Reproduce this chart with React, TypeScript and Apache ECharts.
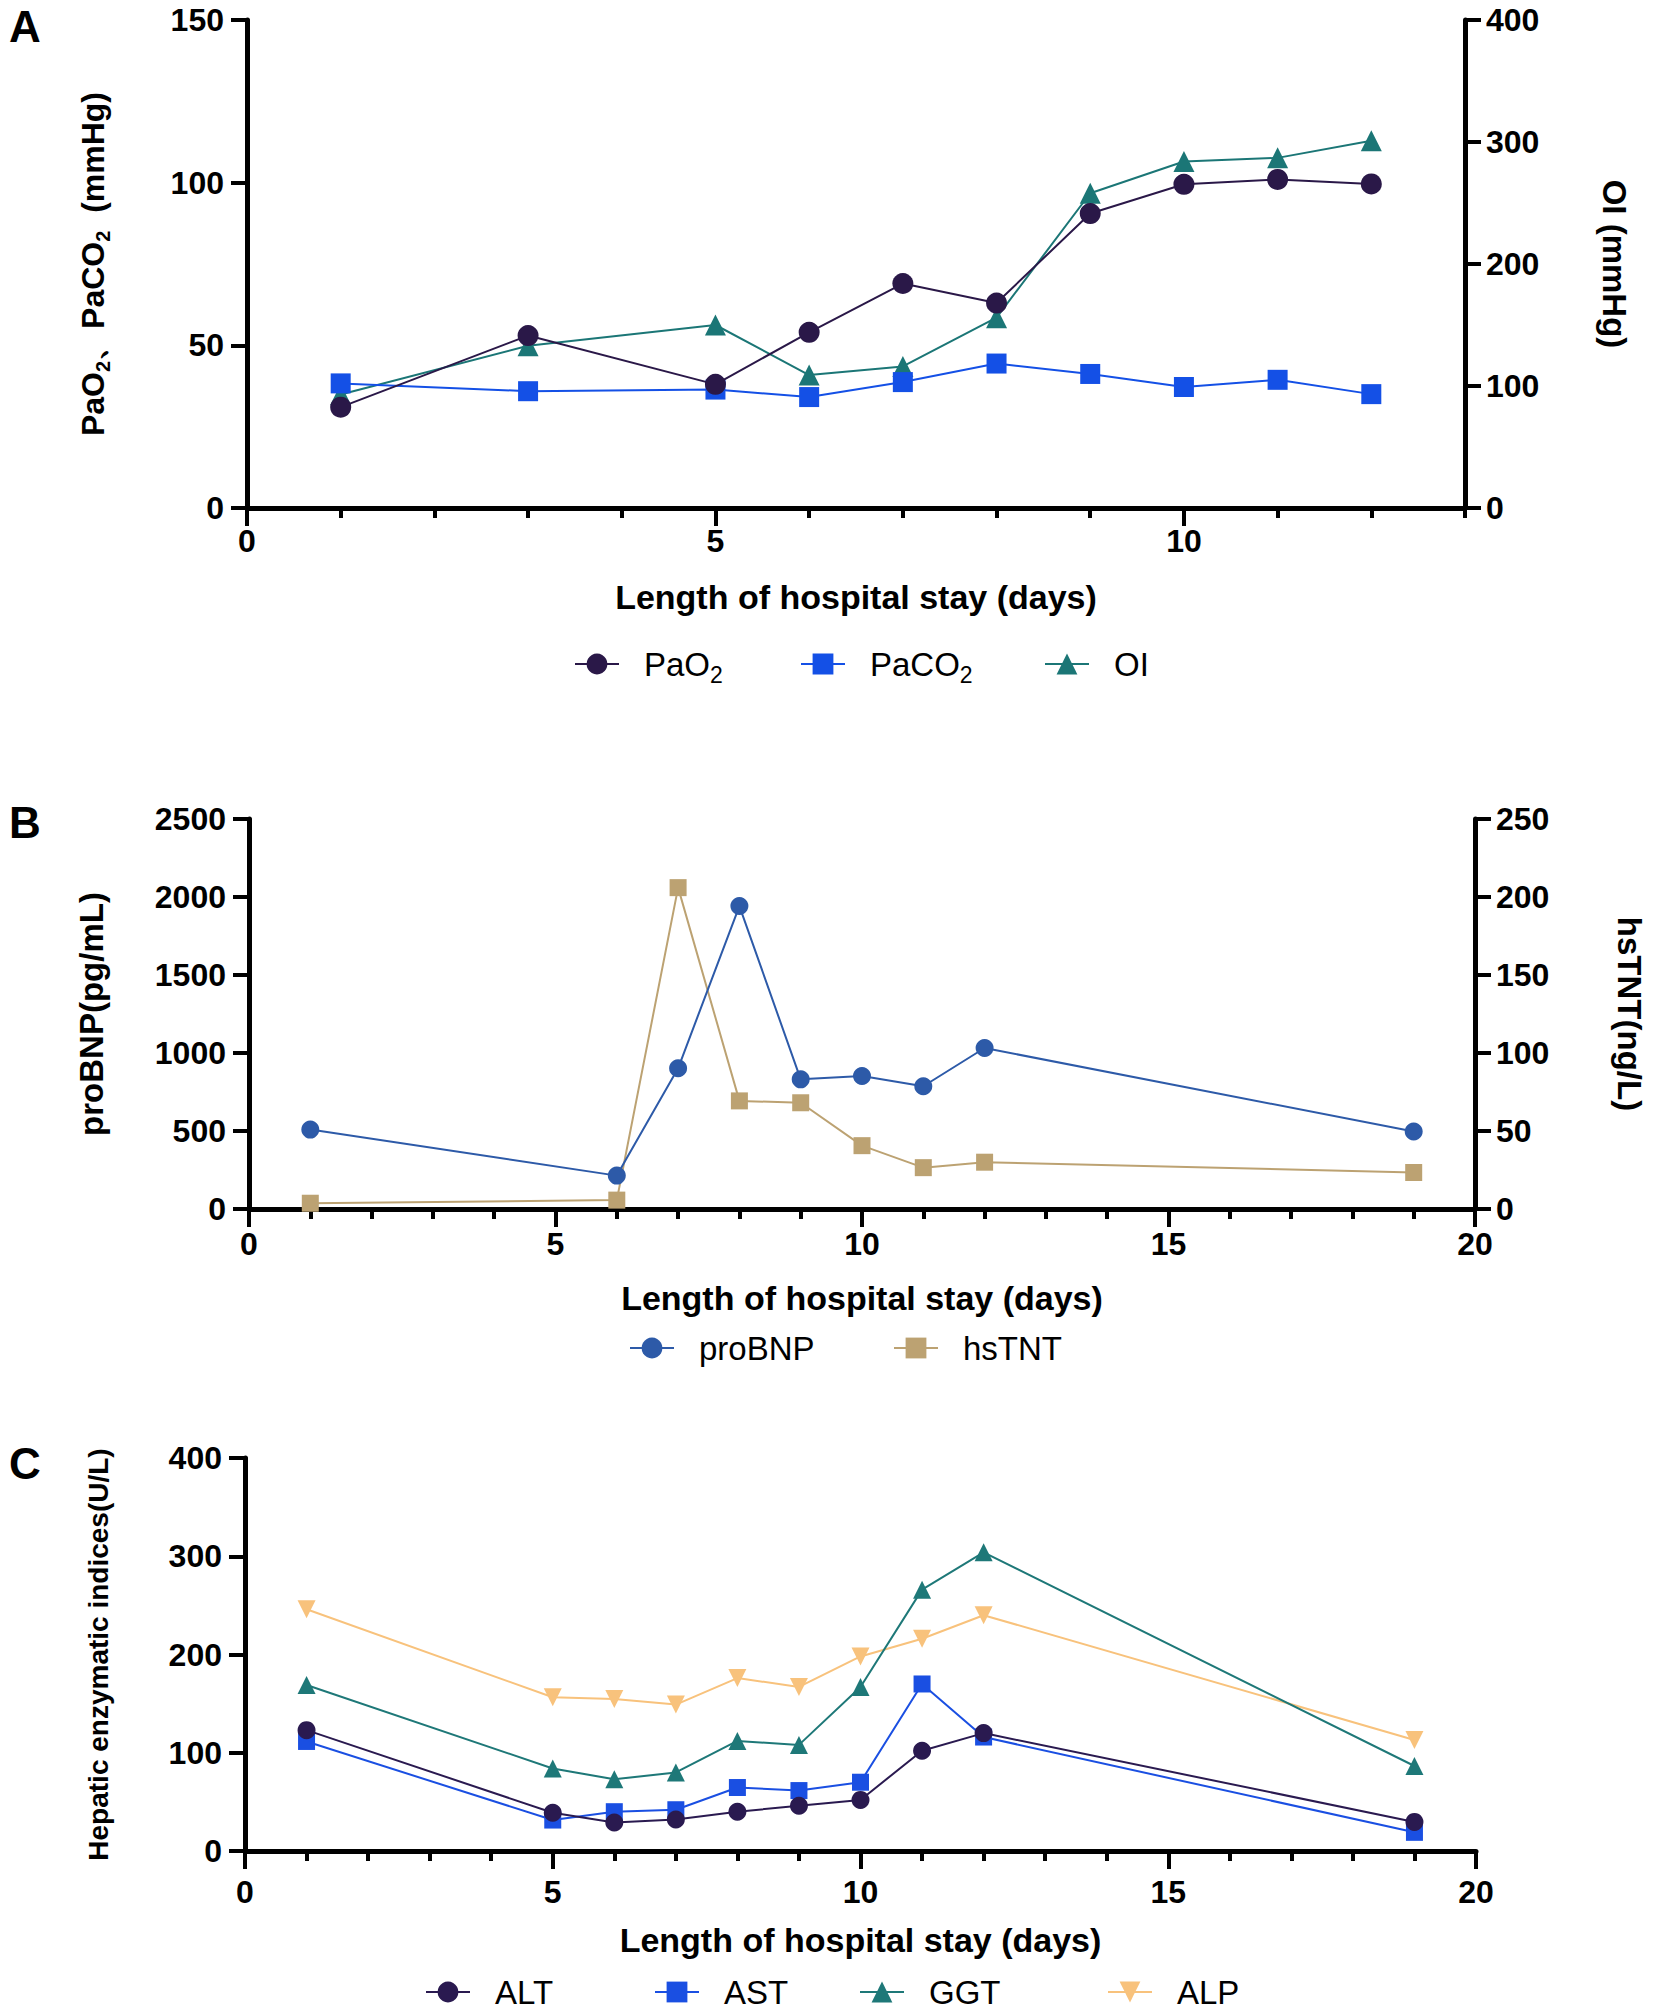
import React, { useEffect, useRef } from "react";
import * as echarts from "echarts";

// ---- Panel A data ----
const daysA = [1, 3, 5, 6, 7, 8, 9, 10, 11, 12];
const pao2 = [31, 53, 38, 54, 69, 63, 90.5, 99.5, 101, 99.6];
const paco2 = [38.3, 35.9, 36.4, 34.1, 38.7, 44.4, 41.2, 37.2, 39.4, 35.0];
const oi = [93, 133, 150, 109, 116, 156, 258, 284, 287, 301];

// ---- Panel B data ----
const daysB = [1, 6, 7, 8, 9, 10, 11, 12, 19];
const probnp = [509, 214, 902, 1942, 831, 853, 787, 1032, 497];
const hstnt = [3.7, 5.7, 206, 69.3, 68.1, 40.6, 26.5, 30, 23.4];

// ---- Panel C data ----
const daysC = [1, 5, 6, 7, 8, 9, 10, 11, 12, 19];
const alt = [123, 39, 29, 32, 40, 46, 52, 102, 120, 29.6];
const ast = [111.5, 31.5, 40, 42, 64.6, 61.5, 70, 170, 116, 19];
const ggt = [169, 84, 73, 80, 112, 108, 167, 266, 304, 86.5];
const alp = [246, 156.5, 154.6, 149, 176, 167, 198, 216, 240, 113];

// tick labels
const majorTicksA = [0, 5, 10];

const FONT = "'Liberation Sans', Arial, Helvetica, sans-serif";
const XTITLE = "Length of hospital stay (days)";

const pairs = (xs: number[], ys: number[]) => xs.map((x, i) => [x, ys[i]]);

const axisLabelStyle = {
  fontSize: 32,
  fontWeight: "bold",
  color: "#000",
  fontFamily: FONT,
  formatter: (v: number) => String(v),
};
const titleStyle = {
  fontSize: 34,
  fontWeight: "bold",
  color: "#000",
  fontFamily: FONT,
};
const axisLine = { show: true, onZero: false, lineStyle: { color: "#000", width: 5 } };

function xAxisMain(gridIndex: number, max: number, margin: number) {
  return {
    type: "value",
    gridIndex,
    position: "bottom",
    min: 0,
    max,
    interval: 5,
    axisLine,
    axisTick: { show: true, length: 18, lineStyle: { color: "#000", width: 4 } },
    minorTick: { show: true, splitNumber: 5, length: 10, lineStyle: { color: "#000", width: 4 } },
    splitLine: { show: false },
    minorSplitLine: { show: false },
    axisLabel: { ...axisLabelStyle, margin },
    name: XTITLE,
    nameLocation: "middle",
    nameGap: 72,
    nameTextStyle: titleStyle,
  };
}

function yAxis(gridIndex: number, max: number, interval: number, position: string, name: string, nameGap: number, extra: any = {}) {
  return {
    type: "value",
    gridIndex,
    position,
    min: 0,
    max,
    interval,
    axisLine,
    axisTick: { show: true, length: 16, lineStyle: { color: "#000", width: 4 } },
    splitLine: { show: false },
    axisLabel: { ...axisLabelStyle, margin: position === "right" ? 21 : 23 },
    name,
    nameLocation: "middle",
    nameGap,
    nameRotate: position === "right" ? -90 : 90,
    nameTextStyle: { ...titleStyle, fontSize: 33 },
    ...extra,
  };
}

function lineSeries(name: string, data: number[][], color: string, symbol: string, size: number, xi: number, yi: number, z: number, rotate = 0) {
  return {
    type: "line",
    name,
    data,
    xAxisIndex: xi,
    yAxisIndex: yi,
    symbol,
    symbolSize: size,
    symbolRotate: rotate,
    z,
    itemStyle: { color },
    lineStyle: { color, width: 2 },
    emphasis: { disabled: true },
  };
}

const legendText = (lh: number) => ({
  fontSize: 33,
  color: "#000",
  fontFamily: FONT,
  lineHeight: lh,
  padding: [0, 0, 0, 20],
  rich: {
    sub: { fontSize: 23, fontFamily: FONT, color: "#000", lineHeight: 22, verticalAlign: "bottom" },
  },
});

function legendItem(name: string, left: number, top: number, lh: number) {
  return {
    data: [name],
    left,
    top,
    padding: 0,
    itemWidth: 44,
    itemHeight: 26,
    textStyle: legendText(lh),
    formatter: (n: string) => (n === "PaO2" ? "PaO{sub|2}" : n === "PaCO2" ? "PaCO{sub|2}" : n),
    selectedMode: false,
  };
}

export default function App() {
  const ref = useRef<HTMLDivElement>(null);
  useEffect(() => {
    if (!ref.current) return;
    const chart = echarts.init(ref.current, null, { renderer: "svg" });
    const option: any = {
      animation: false,
      backgroundColor: "#fff",
      grid: [
        { left: 247, top: 20, width: 1218, height: 488 },
        { left: 249, top: 819, width: 1230, height: 390 },
        { left: 245, top: 1458, width: 1231, height: 393 },
      ],
      xAxis: [
        {
          ...xAxisMain(0, 13, 17),
          interval: 1,
          minorTick: { show: false },
          axisTick: { show: true, length: 18, customValues: majorTicksA, lineStyle: { color: "#000", width: 4 } },
          axisLabel: { ...axisLabelStyle, margin: 17, customValues: majorTicksA },
        },
        {
          type: "value",
          gridIndex: 0,
          position: "bottom",
          min: 0,
          max: 13,
          interval: 1,
          axisLine: { show: false, onZero: false },
          axisTick: { show: true, length: 10, lineStyle: { color: "#000", width: 4 } },
          axisLabel: { show: false },
          splitLine: { show: false },
        },
        xAxisMain(1, 20, 19),
        xAxisMain(2, 20, 25),
      ],
      yAxis: [
        yAxis(0, 150, 50, "left", "PaO{sub|2}、PaCO{sub|2}  (mmHg)", 134, {
          nameTextStyle: {
            ...titleStyle,
            fontSize: 32,
            lineHeight: 40,
            rich: {
              sub: { fontSize: 20, fontWeight: "bold", fontFamily: FONT, color: "#000", lineHeight: 20, verticalAlign: "bottom" },
            },
          },
        }),
        yAxis(0, 400, 100, "right", "OI (mmHg)", 133),
        yAxis(1, 2500, 500, "left", "proBNP(pg/mL)", 141),
        yAxis(1, 250, 50, "right", "hsTNT(ng/L)", 138),
        yAxis(2, 400, 100, "left", "Hepatic enzymatic indices(U/L)", 133, {
          nameTextStyle: { ...titleStyle, fontSize: 28 },
        }),
      ],
      legend: [
        legendItem("PaO2", 574, 642, 44),
        legendItem("PaCO2", 800, 642, 44),
        legendItem("OI", 1044, 642, 44),
        legendItem("proBNP", 629, 1330, 36),
        legendItem("hsTNT", 893, 1330, 36),
        legendItem("ALT", 425, 1974, 36),
        legendItem("AST", 654, 1974, 36),
        legendItem("GGT", 859, 1974, 36),
        legendItem("ALP", 1107, 1974, 36),
      ],
      graphic: [
        { type: "text", left: 9, top: 4, style: { text: "A", font: `bold 44px ${FONT}`, fill: "#000" } },
        { type: "text", left: 9, top: 800, style: { text: "B", font: `bold 44px ${FONT}`, fill: "#000" } },
        { type: "text", left: 9, top: 1441, style: { text: "C", font: `bold 44px ${FONT}`, fill: "#000" } },
      ],
      series: [
        lineSeries("PaO2", pairs(daysA, pao2), "#2a1848", "circle", 21, 0, 0, 5),
        lineSeries("PaCO2", pairs(daysA, paco2), "#1450e6", "rect", 20, 0, 0, 4),
        lineSeries("OI", pairs(daysA, oi), "#1b7676", "triangle", 21, 0, 1, 3),
        lineSeries("proBNP", pairs(daysB, probnp), "#2d5aa8", "circle", 18, 2, 2, 4),
        lineSeries("hsTNT", pairs(daysB, hstnt), "#bca272", "rect", 17, 2, 3, 3),
        lineSeries("ALT", pairs(daysC, alt), "#2a1a50", "circle", 18, 3, 4, 6),
        lineSeries("AST", pairs(daysC, ast), "#1a4fe2", "rect", 17, 3, 4, 5),
        lineSeries("GGT", pairs(daysC, ggt), "#1e7878", "triangle", 18, 3, 4, 4),
        lineSeries("ALP", pairs(daysC, alp), "#f8c27c", "triangle", 18, 3, 4, 3, 180),
      ],
    };
    chart.setOption(option);
    return () => chart.dispose();
  }, []);
  return (
    <div
      ref={ref}
      style={{ position: "absolute", left: 0, top: 0, width: 1654, height: 2013, background: "#fff" }}
    />
  );
}
